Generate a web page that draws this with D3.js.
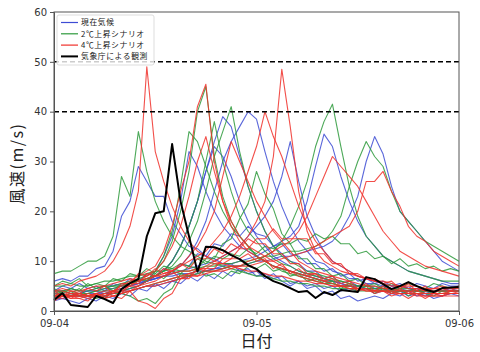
<!DOCTYPE html>
<html><head><meta charset="utf-8">
<script src="https://cdn.jsdelivr.net/npm/d3@7/dist/d3.min.js"></script>
<style>body{margin:0;background:#fff}svg{display:block}</style>
</head><body><div id="chart"></div>
<script>
const startTime = "2023-09-04T00:00";
const hours = 48;
const xTickLabels = ["09-04","09-05","09-06"];
const yTicks = [0,10,20,30,40,50,60];
const refLines = [40,50];
const legendLabels = ["現在気候","2℃上昇シナリオ","4℃上昇シナリオ","気象庁による観測"];

const observed = [2.2,3.6,1.2,1.0,0.8,3.0,2.4,1.6,4.4,5.6,6.4,15,19.6,20,33.5,22,15,7.9,12.9,12.8,12.2,11.2,10.4,9.2,8.4,7.0,6.0,5.4,4.6,3.8,4.0,2.6,3.8,3.2,4.2,4.0,3.8,6.8,6.4,5.4,4.4,5.0,5.8,5.0,4.3,3.8,4.6,4.7,4.8];

const presentClimate = [
 [6,6.5,6,7,7,8.5,9,12,19,22, 29,26,23,23,18,15.5,13,12.5,11,10.5, 9.5,9.5,8,8.5,7,7.5,6.5,7,5.5,6, 5,5.5,4.5,5,4,4.5,4,4.5,3.5,4, 3.5,4,3,3.5,3,3.5,3,3.5,3.5],
 [3,3,3.5,3,3,3.5,3.5,4,4.5,5, 5.5,6,7,8,10,13,17,22,28,34, 39,37,31,25,20,16,13,11.5,10,9.5, 8,8,6.5,7,5.5,6,5,5.5,4.5,5, 4,4.5,4,4.5,3.5,4,4.5,4,4],
 [4,4,3.5,3.5,4,4,4.5,4.5,5,5, 5.5,6,6.5,7,8,9,11,14,18,24, 30,34,37,40,38.5,32,26,21,17,14, 12,10,9.5,8,7.5,6.5,6.5,5.5,5.5,5, 4.5,5,4.5,4,4.5,4,4,4.5,4],
 [2.5,3,3,3.5,3,3,3.5,3.5,4,4, 4.5,5,5,5.5,6,6.5,7,7.5,8,8.5, 9,9.5,10,10.5,11,12,13,14,15,17, 22,29,35.5,33,27,22,18,15,13,11, 10,9,8,7.5,7,6.5,6,5.5,5.5],
 [4,4,4.5,4,4,4.5,5,5,5.5,5.5, 6,6,6.5,7,7,7.5,7.5,8,8,8.5, 8.5,9,9,9.5,10,10,10.5,11,11,11.5, 12,12.5,13,14,16,19,23,30,35,31.5, 25,20,18,16,14,12,10,9,8],
 [3.5,3.5,3,3,3.5,3.5,4,4,4.5,5, 5.5,6,6.5,7,7.5,8,8.5,9,9.5,10, 11,12,13,15,17,19,22,27,34,26, 19,15,12,10,9,8,7,6.5,6,5.5, 5,5,4.5,4.5,4.5,4,4,4,4],
 [2.5,2.5,3,3,2.5,3,3,3.5,4,4.5, 5,6,7,8,10,13,17,22,28,33, 31,27,22,18,15,13,11,10,9,8, 7.5,7,6.5,6,5.5,5,5,4.5,4.5,4.5, 4,4,4,4,4,4,4,4,4],
 [3,3,3,3.5,4,4,3.5,3.5,4,4.5, 5,6,8,11,15,22,32,29,24,20, 17,15,13,12,11,10,9,8.5,8,7.5, 7,6.5,6,6,5.5,5,5,4.5,4.5,4.5, 4.5,4,4,4,4,4,4,4,4],
 [2,2.5,2,1.5,2.5,2,3,2.5,3.5,3, 4.5,4,5.5,4.5,6,5.5,7,6,7.5,6.5, 8,7,8.5,7.5,8,6.5,7.5,6,5,6, 4.5,5,3.5,4,2.5,3,2,2.5,3,2.5, 3.5,3,4,3,3.5,2.5,3,3.5,3],
 [4,5,4.5,5.5,4.5,5,4,5.5,5,6.5, 6,7.5,7,8.5,7.5,9.5,9,11.5,11,13.5, 13,15.5,15,17,15.5,15,13,13.5,11.5,11, 9.5,9.5,8,8.5,7,7.5,6,6.5,5.5,6, 5,5.5,4.5,5.5,5,4.5,5.5,5,5]
];

const plus2C = [
 [7.5,8,8,9,10,10,11,15,27,23, 36,28,22,18,15,13,12,11,10,9.5, 9,8.5,8,7.5,7,7,6.5,6,6,5.5, 5.5,5,5,4.5,4.5,4.5,4,4,4,4, 4,3.5,3.5,3.5,3.5,3.5,3.5,3.5,3.5],
 [4,4,4.5,4,4,4.5,5,5,5.5,6, 6.5,7,8,10,14,20,28,40,45,31, 23,18,15,13,11,10,9,8.5,8,7.5, 7,6.5,6,5.5,5,5,4.5,4.5,4.5,4, 4,4,4,4,4,3.5,3.5,3.5,3.5],
 [3,3.5,3,3,3.5,4,4,4.5,5,5.5, 6,6.5,7,8,9,11,14,18,24,31, 36,41,32,25,20,16,13,11,10,9, 8,7.5,7,6.5,6,5.5,5,5,4.5,4.5, 4.5,4,4,4,4,4,4,4,4],
 [3,3,3.5,3,3,2.5,3,3.5,3.5,4, 4.5,5,5.5,6,6.5,7,7,7.5,8,8, 8.5,9,9,9.5,10,11,12,14,17,21, 26,33,38,41.5,33,25,19,15,13,11, 10,9,8,7.5,7,6.5,6,6,6],
 [5,5,5.5,5,5,5.5,6,6,6.5,7, 7,7.5,8,8,8.5,8,8,8.5,9,9, 9.5,9.5,10,10,10.5,11,11,11.5,12,12, 12.5,13,14,16,19,25,30,34,31,29, 24,20,18,16,14,13,12,11,10],
 [2.5,3,3,3.5,3,3,3.5,4,4,4.5, 5,6,8,11,16,25,36,34,29,24, 20,17,15,13,11,10,9,8,7.5,7, 6.5,6,5.5,5.5,5,5,4.5,4.5,4,4, 4,4,3.5,3.5,3.5,3.5,3.5,3.5,3.5],
 [3.5,4,4,3.5,3.5,4,4.5,5,5,5.5, 6,6.5,7,8,10,13,17,22,30,38, 30,24,19,16,14,12,10.5,9.5,9,8, 7.5,7,6.5,6,6,5.5,5,5,5,4.5, 4.5,4.5,4.5,4,4,4,4,4,4],
 [4.5,3.5,4.5,4,5.5,4.5,5,4,5.5,5, 6.5,6,7.5,6.5,8,7.5,9,8.5,10.5,10.5, 13.5,14.5,18.5,21.5,28,23.5,20.5,15.5,13.5,10.5, 10.5,8.5,8.5,7,7.5,6,6.5,5,5.5,4.5, 5.5,4.5,5.5,5,4.5,5.5,5,4.5,5],
 [3,4,3.5,4.5,3,3.5,2.5,4,3.5,3, 2,2.5,1.5,3.5,4.5,7.5,7,8.5,7,7.5, 6.5,8,7.5,9,8.5,9.5,8,8.5,7,7.5, 6,6.5,5.5,6,4.5,5.5,4,5,3.5,4.5, 3.5,4.5,3,4,3.5,3,4,3.5,3.5],
 [5,6,5.5,6.5,5,5.5,5,6.5,6,7.5, 7,8.5,7.5,9,8.5,9.5,9,10.5,9.5,11, 10.5,11.5,11,12.5,11.5,13,12.5,13.5,13.5,14.5, 14,15.5,14.5,15,13.5,13.5,11.5,12,10.5,11, 9.5,10.5,9,9.5,8.5,9,8,8.5,8]
];

const plus4C = [
 [5,5.5,5,6,6.5,7,8,10,13,17, 24,49,32,26,21,17,14,12,11,10, 9.5,9,8.5,8,8,7.5,7,7,6.5,6, 6,5.5,5.5,5,5,4.5,4.5,4,4,4, 3.5,3.5,3.5,3,3,3,3,3,3],
 [3,3.5,3,3,2.5,3,3.5,4,5,6, 7,8,9,12,17,24,30,41,45.5,30, 22,17,14,12,11,10,9,8.5,8,7, 6.5,6,5.5,5,5,4.5,4.5,4,4,4, 4,3.5,3.5,3.5,3,3,3,3.5,3.5],
 [4,4,3.5,3.5,3,3,3.5,3,3.5,4, 4.5,5,5.5,6,6.5,7,7.5,8,9,10, 11,12,13,15,18,22,31,48.5,37,24, 16,12,10,9,8,7.5,7,6.5,6,5.5, 5,5,4.5,4.5,4,4,4,4,4],
 [3,3,3.5,3,3,3.5,4,4,4.5,5, 5,6,7,7.5,8,9,10,11,12,14, 16,19,23,28,33,40,35,31,26,21, 17,14,12,10,9,8,7,6.5,6,6, 5.5,5,5,5,4.5,4.5,4.5,4.5,4.5],
 [3,2.5,3,3,3.5,3,3,3.5,4,4, 4.5,5,5,5.5,6,6.5,7,7,7.5,8, 8.5,9,9,10,10.5,11,12,13,14,16, 19,23,27,31,29,27,25,22,19,16, 14,12,11,10,9,8.5,8,7.5,7],
 [4,4.5,4,4,4.5,5,5,5.5,6,6.5, 6,6.5,7,7,7.5,8,8,8.5,8,8, 8,8.5,9,9,9.5,10,10,10.5,11,11.5, 12,13,14,15,16,17,20,26,26,28, 24,21,17,15,14,12,11,10,9],
 [2.5,3,3,2.5,3,3.5,3,4,4,5, 6,7,8,10,13,17,23,30,35,28, 22,18,15,13,12,11,10,9,8,7.5, 7,6.5,6,5.5,5,5,4.5,4.5,4,4, 4,4,4,3.5,3.5,3.5,3.5,4,4],
 [3.5,3,3,3.5,3,3,2.5,3,3.5,4, 5,5.5,6,7,8,9,11,13,16,20, 27,34,30,26,22,19,16,14,12,10, 9,8,7.5,7,6.5,6,5.5,5,5,4.5, 4.5,4,4,4,3.5,3.5,3.5,3.5,3.5],
 [2,3,2.5,3.5,3,3.5,2.5,4,3.5,5.5, 5.5,7.5,7,8.5,8,9.5,8.5,10.5,10.5,12.5, 11.5,13.5,12.5,14.5,13.5,13.5,11.5,11.5,9.5,9.5, 7.5,7.5,6,6.5,5,5.5,4,4.5,3.5,4, 3,3.5,2.5,3.5,2.5,3.5,3,4,3.5],
 [3,3.5,2.5,2.5,2,3.5,2.5,3,2.5,4, 2,1.5,0.5,2.5,3.5,6.5,6.5,8.5,8.5,9.5, 9.5,10.5,10.5,11.5,10,10.5,8.5,9.5,7.5,8.5, 7,7.5,6.5,7,5.5,6,4.5,5.5,4,5, 3.5,4.5,3.5,4.5,4,4.5,5,4.5,5],
 [4,3,4,3.5,4.5,4,5,3.5,5.5,5.5, 7.5,7,8.5,7.5,8,6.5,7.5,7,8.5,8.5, 10.5,10.5,12.5,12.5,14.5,14.5,16.5,14.5,14.5,14.5, 14.5,11.5,11.5,9.5,9.5,7.5,7.5,6.5,6.5,5.5, 6,4.5,5.5,4,5,3.5,4.5,4,5]
];

const W = 480, H = 352;
const margin = {left: 54, right: 21, top: 12, bottom: 41};
const svg = d3.select("#chart").append("svg").attr("width", W).attr("height", H)
  .style("font-family", "'Noto Sans CJK JP','DejaVu Sans',sans-serif");

const t0 = new Date(startTime);
const timeAt = i => new Date(t0.getTime() + i * 3600e3);
const x = d3.scaleTime().domain([t0, timeAt(hours)]).range([margin.left, W - margin.right]);
const y = d3.scaleLinear().domain([0, 60]).range([H - margin.bottom, margin.top]);

const line = d3.line().x((d, i) => x(timeAt(i))).y(d => y(d));

const groups = [
  {data: presentClimate, color: "#3d4cd4"},
  {data: plus2C, color: "#2e9a3c"},
  {data: plus4C, color: "#f0302a"}
];
const plot = svg.append("g");
groups.forEach(g => {
  plot.append("g").selectAll("path").data(g.data).join("path")
    .attr("d", line).attr("fill", "none").attr("stroke", g.color)
    .attr("stroke-width", 1.1).attr("stroke-opacity", 0.85).attr("stroke-linejoin", "round");
});
plot.append("path").datum(observed).attr("d", line).attr("fill", "none")
  .attr("stroke", "#000").attr("stroke-width", 2).attr("stroke-linejoin", "round");

refLines.forEach(v => {
  svg.append("line").attr("x1", margin.left).attr("x2", W - margin.right)
    .attr("y1", y(v)).attr("y2", y(v)).attr("stroke", "#000")
    .attr("stroke-width", 1.5).attr("stroke-dasharray", "5,3");
});

// axes
const xAxis = d3.axisBottom(x)
  .tickValues([0, 24, 48].map(timeAt))
  .tickFormat((d, i) => xTickLabels[i]).tickSizeOuter(0).tickSize(4);
const gx = svg.append("g").attr("transform", `translate(0,${H - margin.bottom})`).call(xAxis);
const yAxis = d3.axisLeft(y).tickValues(yTicks).tickSizeOuter(0).tickSize(4);
const gy = svg.append("g").attr("transform", `translate(${margin.left},0)`).call(yAxis);
[gx, gy].forEach(g => {
  g.selectAll("text").attr("font-size", 10).attr("fill", "#333").attr("font-family", "'DejaVu Sans',sans-serif");
  g.selectAll("line").attr("stroke", "#555");
  g.select(".domain").attr("stroke", "#555");
});
gx.selectAll("text").attr("dy", "0.9em");
// frame
svg.append("rect").attr("x", margin.left).attr("y", margin.top)
  .attr("width", W - margin.left - margin.right).attr("height", H - margin.top - margin.bottom)
  .attr("fill", "none").attr("stroke", "#555").attr("stroke-width", 1);

// legend
const lg = svg.append("g").attr("transform", "translate(57,15)");
lg.append("rect").attr("width", 97).attr("height", 50).attr("rx", 2)
  .attr("fill", "#fff").attr("fill-opacity", 0.8).attr("stroke", "#ddd");
const legendColors = ["#3d4cd4", "#2e9a3c", "#f0302a", "#000"];
legendLabels.forEach((lab, i) => {
  const yy = 7.5 + i * 11.3;
  lg.append("line").attr("x1", 4).attr("x2", 21).attr("y1", yy).attr("y2", yy)
    .attr("stroke", legendColors[i]).attr("stroke-width", i === 3 ? 2 : 1.2);
  lg.append("text").attr("x", 24).attr("y", yy).attr("dy", "0.35em")
    .attr("font-size", 7.8).attr("letter-spacing", 0.6).attr("fill", "#222").text(lab);
});

// labels
svg.append("text").attr("transform", `translate(23,${(margin.top + H - margin.bottom) / 2 + 2}) rotate(-90)`)
  .attr("text-anchor", "middle").attr("font-size", 16).attr("letter-spacing", 1.5).attr("fill", "#222").text("風速(m/s)");
svg.append("text").attr("x", x(timeAt(24))).attr("y", 347)
  .attr("text-anchor", "middle").attr("font-size", 16).attr("fill", "#222").text("日付");
</script></body></html>
